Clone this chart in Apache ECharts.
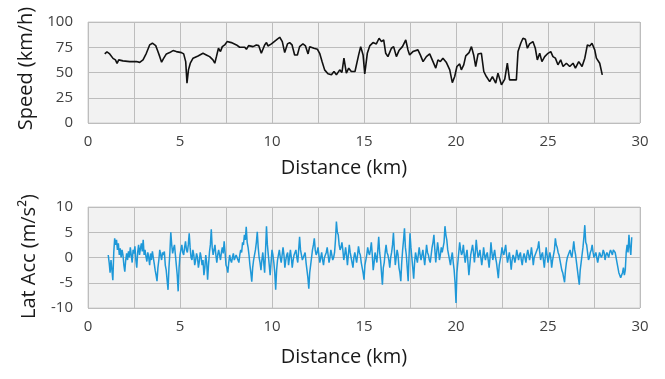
<!DOCTYPE html>
<html>
<head>
<meta charset="utf-8">
<script src="https://cdn.jsdelivr.net/npm/echarts@6/dist/echarts.min.js"></script>
<style>
  html, body { margin: 0; padding: 0; background: #fff; }
  #chart { width: 665px; height: 379px; }
</style>
</head>
<body>
<div id="chart"></div>
<script>
// speed trace
const speedDist = [
  0.91, 1.03, 1.18, 1.36, 1.49, 1.58, 1.67, 1.90, 2.27, 2.63, 2.81, 2.99, 3.17, 3.35, 3.50, 3.68, 3.80, 3.90, 4.00, 4.11,
  4.26, 4.44, 4.62, 4.80, 5.08, 5.20, 5.31, 5.38, 5.46, 5.56, 5.71, 5.98, 6.25, 6.43, 6.61, 6.79, 6.89, 6.98, 7.09, 7.20,
  7.30, 7.43, 7.56, 7.79, 8.07, 8.24, 8.52, 8.61, 8.73, 8.97, 9.15, 9.28, 9.42, 9.60, 9.70, 9.78, 9.97, 10.24, 10.42, 10.56,
  10.69, 10.84, 10.96, 11.09, 11.23, 11.38, 11.50, 11.68, 11.82, 11.96, 12.05, 12.28, 12.47, 12.59, 12.72, 12.86, 13.04, 13.23, 13.37, 13.50,
  13.68, 13.80, 13.91, 14.04, 14.17, 14.31, 14.51, 14.71, 14.82, 14.95, 15.04, 15.18, 15.31, 15.49, 15.67, 15.82, 15.95, 16.07, 16.18, 16.30,
  16.49, 16.61, 16.76, 16.90, 17.09, 17.27, 17.39, 17.48, 17.66, 17.93, 18.06, 18.21, 18.39, 18.57, 18.75, 18.90, 19.02, 19.15, 19.29, 19.48,
  19.66, 19.80, 19.93, 20.05, 20.20, 20.29, 20.42, 20.53, 20.71, 20.84, 20.96, 21.07, 21.20, 21.38, 21.51, 21.65, 21.83, 21.98, 22.16, 22.28,
  22.47, 22.65, 22.79, 22.91, 23.10, 23.28, 23.37, 23.52, 23.64, 23.77, 23.88, 24.00, 24.18, 24.31, 24.42, 24.55, 24.67, 24.82, 25.00, 25.15,
  25.27, 25.40, 25.54, 25.69, 25.82, 26.00, 26.18, 26.36, 26.49, 26.67, 26.85, 27.00, 27.14, 27.27, 27.39, 27.54, 27.63, 27.72, 27.81, 27.95
];
const speedVal = [
  68.4, 70.4, 68.4, 64.0, 62.5, 59.0, 62.5, 61.5, 60.8, 60.8, 60.0, 62.5, 69.0, 77.3, 79.0, 76.6, 70.7, 65.7, 60.2, 64.0,
  68.4, 69.7, 71.7, 70.7, 69.7, 68.4, 60.8, 39.5, 52.6, 59.2, 64.2, 66.4, 69.0, 67.4, 65.7, 62.5, 59.2, 65.7, 74.0, 70.7,
  75.6, 77.3, 80.6, 79.6, 77.3, 75.0, 75.0, 73.0, 76.6, 75.6, 77.3, 76.6, 69.0, 77.3, 79.6, 76.3, 78.3, 82.2, 84.9, 80.6,
  69.7, 78.3, 79.6, 77.3, 67.4, 67.4, 75.6, 78.3, 76.3, 68.4, 75.6, 74.0, 73.0, 69.0, 60.8, 52.6, 48.7, 47.7, 51.0, 47.7,
  52.6, 50.0, 64.2, 49.4, 54.3, 51.0, 51.0, 67.4, 75.6, 67.4, 48.7, 69.0, 76.3, 79.6, 78.3, 83.9, 80.6, 82.2, 69.0, 65.7,
  74.0, 75.6, 65.7, 71.7, 75.6, 82.2, 72.4, 67.4, 70.7, 72.4, 67.4, 60.8, 65.7, 68.4, 60.8, 54.3, 62.5, 60.8, 64.2, 59.8,
  52.6, 40.0, 46.0, 55.9, 58.5, 52.6, 57.6, 66.4, 69.7, 75.6, 67.4, 55.9, 68.4, 69.0, 51.0, 46.0, 41.0, 46.0, 39.5, 49.4,
  37.8, 43.4, 59.2, 42.7, 42.7, 42.7, 70.7, 79.0, 83.9, 82.9, 74.0, 78.3, 80.6, 74.0, 62.5, 69.0, 60.8, 65.7, 69.0, 70.7,
  65.7, 64.2, 57.6, 62.5, 55.9, 59.2, 55.9, 59.2, 54.3, 60.8, 55.9, 64.2, 77.3, 76.3, 79.0, 72.4, 64.2, 65.7, 59.2, 47.7
];

// lateral acceleration, sampled every 0.05 km from 1.10 km (one row = 1 km)
const latStart = 1.1;
const latStep = 0.05;
const latVal = [
  0.5, -1.0, -3.0, -0.5, -2.5, -4.5, 1.0, 3.8, 2.5, 3.5, 1.5, 2.8, 0.5, 1.8, 0.0, 1.5, 0.5, -1.5, -2.8, -0.5,
  0.8, -0.5, 1.2, 0.0, 2.0, 0.5, -1.0, 1.5, 0.8, 2.2, -0.5, -2.0, 1.0, 2.5, 0.5, 1.8, 2.8, 1.2, 3.5, 0.5,
  1.5, 0.2, -0.8, 1.0, 0.0, -1.5, 0.8, -0.5, 1.2, 0.0, -1.2, -2.5, -3.5, -4.7, -2.0, -0.5, 1.5, 0.5, -0.5, 1.0,
  0.5, 1.2, -1.5, -2.5, -4.5, -6.4, -2.0, 1.0, 5.0, 2.5, 0.8, 1.8, 2.5, 0.5, -1.5, -3.5, -6.7, -2.0, 0.5, 1.5,
  2.5, 1.0, 0.5, 2.0, 3.2, 1.5, 1.0, 2.5, 4.8, 2.0, 0.0, -0.5, 1.5, 0.5, -1.5, -0.5, 0.8, 0.0, -2.0, -0.8,
  1.0, 0.0, -1.5, -0.5, -3.5, -2.0, 0.5, -1.0, -4.4, -1.5, 1.0, 2.5, 5.6, 2.0, 0.5, 1.5, 2.5, 0.5, -1.0, 0.5,
  1.5, 0.5, -0.5, 1.0, 2.0, 0.8, 3.2, 1.0, -1.5, -2.0, -3.0, -1.0, 0.5, -0.5, -1.0, 0.0, 0.8, -0.5, -0.5, 0.5,
  0.5, -0.5, -1.0, 0.5, 1.5, 1.0, 3.0, 2.5, 4.5, 3.5, 6.1, 3.0, 2.0, 0.5, -1.5, -3.0, -4.8, -2.0, -0.5, 0.5,
  1.5, 3.0, 5.1, 2.0, 0.0, -1.0, -2.5, -0.5, 1.0, -1.0, -3.0, 1.5, 6.2, 2.5, 0.5, -1.5, -3.5, -1.0, 1.5, 0.5,
  -1.0, -3.0, -6.4, -2.5, -0.5, 0.5, 1.5, 0.0, -1.0, 0.5, 2.0, 0.5, -2.0, -0.5, 0.5, 1.0, -1.5, 0.0, 1.5, 0.0,
  -2.0, -0.5, 0.5, 1.0, 1.5, 0.0, -1.0, 1.5, 4.1, 1.5, 0.5, -0.5, -0.5, 0.5, 1.0, -1.0, -2.5, -4.0, -6.2, -3.0,
  -1.5, 0.0, 1.5, 2.5, 3.8, 1.5, 0.5, 1.0, 2.0, 0.5, -1.0, 0.0, 1.0, -0.5, -1.5, 0.0, 0.5, 1.0, 2.0, 0.5,
  -1.0, 0.0, 1.5, 0.5, -0.5, 0.0, 1.0, 3.5, 7.1, 5.0, 4.5, 2.5, 1.5, 2.0, 3.0, 1.5, -0.5, 0.5, 2.0, 0.5,
  -1.5, 0.5, 2.5, 1.0, 0.0, -1.0, -2.0, 0.0, 1.0, 0.0, -1.0, 0.5, 2.2, 1.0, 0.5, -1.0, -2.0, -3.0, -4.4, -1.5,
  -0.5, 0.5, 2.0, 1.0, 0.5, 1.5, 3.0, 0.5, -2.5, -1.0, 1.0, 0.0, -1.0, 1.5, 4.1, 1.0, -0.5, -3.0, -5.4, -2.0,
  -1.0, 1.0, 2.5, 1.0, 0.5, -0.5, -2.0, 0.0, 1.0, 2.5, 4.9, 1.5, -1.5, 0.0, 1.5, 0.5, -2.0, -3.0, -4.7, -1.0,
  1.5, 3.5, 5.8, 2.0, 0.5, -2.0, -4.7, 0.5, 4.8, 2.0, 0.0, -2.0, -4.2, -1.0, 1.0, 0.0, -1.0, 0.5, 2.0, 0.5,
  -0.5, 0.5, 1.5, 0.0, -1.5, 0.5, 2.5, 1.0, 0.5, -0.5, -1.0, 0.5, 2.0, 3.0, 4.5, 1.5, -1.0, 1.0, 3.0, 1.5,
  -0.5, 0.5, 2.0, 1.0, 1.0, 3.0, 6.2, 4.5, 3.5, 1.5, 0.5, -0.5, -1.5, 0.0, 1.0, -1.0, -2.5, -5.0, -9.0, -3.0,
  -1.0, 1.0, 3.0, 1.5, 0.5, 1.0, 2.5, 0.5, -1.0, 0.5, 1.5, -1.0, -3.5, -1.5, 0.5, 1.5, 2.5, 1.0, -1.0, 1.0,
  3.5, 1.5, 0.0, 0.5, 1.5, 0.0, -1.5, 0.0, 2.0, 0.5, -0.5, 0.5, 1.0, -0.5, -2.0, 0.0, 3.0, 1.0, -0.5, 0.5,
  1.5, 0.0, -1.0, -2.5, -4.1, -1.5, -0.5, 0.5, 2.0, 1.0, 0.5, 1.5, 2.5, 0.5, -1.0, 0.0, 1.0, -0.5, -2.4, -0.5,
  0.5, 0.0, -1.0, 0.0, 1.5, 0.5, -0.5, 0.5, 1.0, -0.5, -1.5, 0.0, 0.8, 0.0, -1.0, 0.5, 1.5, 0.5, -0.5, 0.5,
  2.0, 0.5, -1.5, 0.0, 0.5, 1.0, 1.5, 2.0, 3.2, 1.0, -0.5, 0.5, 1.0, -0.5, -2.0, 0.0, 2.0, 0.5, -1.0, 0.0,
  1.0, 0.0, -2.0, -0.5, 0.5, 1.5, 3.8, 2.5, 2.0, 1.0, 0.5, -0.5, -1.5, -2.5, -3.0, -4.0, -4.9, -2.5, -1.0, 0.0,
  0.5, 1.0, 1.5, 0.5, 0.0, 1.5, 3.2, 1.5, 0.5, -1.0, -2.5, -4.0, -5.4, -2.5, -1.0, 0.5, 2.0, 4.0, 6.4, 3.0,
  2.5, 1.0, -0.5, 0.0, 1.0, 1.5, 2.5, 1.0, 0.0, 0.5, 1.0, 0.0, -1.0, 0.0, 1.0, 0.5, 0.0, 0.5, 1.5, 1.0,
  -0.5, 0.5, 1.0, 0.5, 0.0, 1.0, 1.5, 1.0, 0.5, 1.5, 1.8, 1.0, 0.0, -1.0, -2.0, -3.0, -3.5, -4.0, -4.1, -3.0,
  -2.0, -3.5, -2.5, 1.0, 2.5, 1.0, 4.5, 2.0, 0.5, 4.0
];

const xTicks = [0, 30, 2.5];      // min, max, gridline step (labels every 5)
const speedTicks = [0, 100, 25];
const latTicks = [-10, 10, 5];

const chart = echarts.init(document.getElementById("chart"));

const FONT = "Open Sans";
const gridLine = "#bdbdbd";

const xAxisFor = (gridIndex, nameGap) => ({
  gridIndex,
  type: "value",
  min: xTicks[0],
  max: xTicks[1],
  interval: xTicks[2],
  name: "Distance (km)",
  nameLocation: "middle",
  nameGap,
  // title sits a bit left of the plot centre in the original
  nameTextStyle: { fontFamily: FONT, fontSize: 20, color: "#1a1a1a", padding: [0, 40, 0, 0] },
  axisLine: { show: false },
  axisTick: { show: false },
  axisLabel: {
    fontFamily: FONT,
    fontSize: 15,
    color: "#404040",
    margin: 11,
    formatter: (v) => (v % 5 === 0 ? String(v) : ""),
  },
  splitLine: { show: true, lineStyle: { color: gridLine, width: 1 } },
});

const yAxisFor = (gridIndex, ticks, name, pad) => ({
  gridIndex,
  type: "value",
  min: ticks[0],
  max: ticks[1],
  interval: ticks[2],
  name,
  nameLocation: "middle",
  nameGap: 49,
  nameTextStyle: { fontFamily: FONT, fontSize: 20, color: "#1a1a1a", padding: pad },
  axisLine: { show: false },
  axisTick: { show: false },
  axisLabel: { fontFamily: FONT, fontSize: 15, color: "#404040", margin: 15 },
  splitLine: { show: true, lineStyle: { color: gridLine, width: 1 } },
});

const options = {
  backgroundColor: "#ffffff",
  animation: false,
  grid: [
    { left: 88, top: 22, width: 552, height: 101, show: true, backgroundColor: "#f2f2f2", borderColor: "#d0d0d0", borderWidth: 1 },
    { left: 88, top: 207, width: 552, height: 101, show: true, backgroundColor: "#f2f2f2", borderColor: "#d0d0d0", borderWidth: 1 },
  ],
  xAxis: [xAxisFor(0, 35), xAxisFor(1, 39)],
  yAxis: [
    yAxisFor(0, speedTicks, "Speed (km/h)", [0, 0, 0, 8]),
    yAxisFor(1, latTicks, "Lat Acc (m/s²)", [0, 0, 0, 2]),
  ],
  series: [
    {
      name: "Speed",
      type: "line",
      xAxisIndex: 0,
      yAxisIndex: 0,
      showSymbol: false,
      lineStyle: { color: "#111111", width: 1.6 },
      data: speedDist.map((d, i) => [d, speedVal[i]]),
    },
    {
      name: "Lat Acc",
      type: "line",
      xAxisIndex: 1,
      yAxisIndex: 1,
      showSymbol: false,
      lineStyle: { color: "#1e98d8", width: 1.5 },
      data: latVal.map((v, i) => [+(latStart + i * latStep).toFixed(2), v]),
    },
  ],
};

chart.setOption(options);
</script>
</body>
</html>
